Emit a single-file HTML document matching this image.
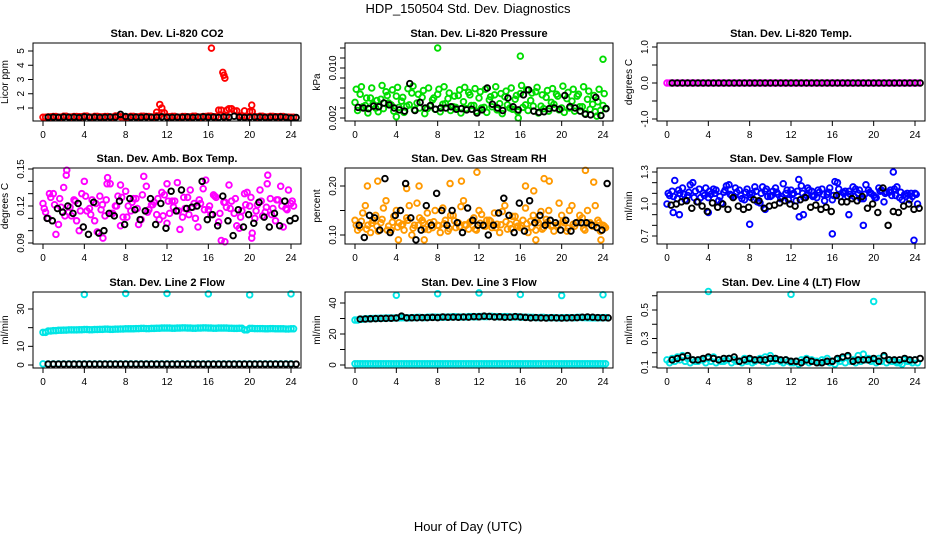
<!DOCTYPE html>
<html><head><meta charset="utf-8"><style>
html,body{margin:0;padding:0;background:#fff;}
svg{display:block;font-family:"Liberation Sans",sans-serif;}
</style></head><body>
<svg id="chart" width="936" height="540" viewBox="0 0 936 540">
<text x="468" y="13" text-anchor="middle" font-size="13">HDP_150504  Std. Dev. Diagnostics</text>
<text x="468" y="531" text-anchor="middle" font-size="13">Hour of Day (UTC)</text>
</svg>
<script>
// ---- data (hour of day sampled every 0.5 h; second arrays offset 0.25 h) ----
const hourTicks = [0,4,8,12,16,20,24];
const co2Red = [0.35,0.38,0.4,0.36,0.42,0.37,0.4,0.39,0.43,0.36,0.41,0.38,0.4,0.37,0.44,0.39,0.36,0.41,0.38,0.42,0.4,0.37,0.45,0.66,0.39,0.41,0.36,0.4,0.38,0.42,0.37,0.4,0.43,0.39,0.85,0.4,0.95,0.8,0.45,0.4,0.75,0.38,0.42,0.37,0.41,0.39,0.4,0.36,0.35];
const co2RedOutX = [11.3,11.5,16.3,17.4,17.5,17.6,20.2,19.5,11.0,17.8];
const co2RedOutY = [1.25,1.0,5.2,3.5,3.3,3.1,1.2,0.8,0.7,0.85];
const co2Black = [0.35,0.36,0.34,0.37,0.35,0.36,0.33,0.38,0.35,0.36,0.34,0.35,0.37,0.36,0.55,0.4,0.35,0.36,0.34,0.37,0.35,0.36,0.38,0.35,0.34,0.36,0.35,0.37,0.34,0.36,0.38,0.35,0.36,0.34,0.37,0.35,0.42,0.36,0.34,0.35,0.37,0.36,0.34,0.35,0.36,0.37,0.35,0.3,0.33];

const presGreen = [0.0045,0.0058,0.004,0.0052,0.0036,0.005,0.0062,0.0041,0.0055,0.0047,0.0039,0.006,0.0044,0.0053,0.0035,0.0049,0.0058,0.0042,0.0051,0.0038,0.0056,0.0046,0.0061,0.004,0.0052,0.0037,0.0049,0.0057,0.0043,0.0054,0.0036,0.005,0.0059,0.0041,0.0048,0.0062,0.0039,0.0053,0.0045,0.0058,0.0036,0.0051,0.0047,0.0055,0.0038,0.005,0.0042,0.0046,0.004];
const presGreen2 = [0.0032,0.0038,0.0028,0.0042,0.003,0.0035,0.0044,0.0031,0.0037,0.0029,0.0041,0.0033,0.0036,0.0027,0.0039,0.0034,0.003,0.0043,0.0032,0.0037,0.0028,0.0035,0.004,0.0031,0.0036,0.0029,0.0038,0.0033,0.0027,0.0041,0.0034,0.003,0.0037,0.0032,0.0039,0.0028,0.0035,0.0031,0.0042,0.0033,0.0029,0.0036,0.0031,0.0038,0.0027,0.0034,0.003,0.0032,0.0035];
const presGreen3 = [0.0066,0.007,0.0052,0.0068,0.0048,0.0072,0.0056,0.0065,0.0069,0.0053,0.0067,0.0071,0.0058,0.0064,0.0068,0.0052,0.0066,0.007,0.006,0.0055,0.0065,0.0069,0.0057,0.0067,0.0062,0.0066,0.0054,0.007,0.0059,0.0063,0.0068,0.0056,0.0072,0.0065,0.006,0.0069,0.0057,0.0064,0.0067,0.0055,0.0071,0.0061,0.0066,0.0058,0.007,0.0063,0.0056,0.0066,0.0059];
const presOutX = [8,16,24,15.8,4,23.4];
const presOutY = [0.0132,0.0119,0.0114,0.002,0.0022,0.0023];
const presBlack = [0.0037,0.0036,0.0035,0.0039,0.0038,0.0044,0.0041,0.0036,0.0033,0.0031,0.0075,0.0032,0.0045,0.0036,0.004,0.0034,0.0036,0.0036,0.0038,0.0034,0.0035,0.0033,0.0034,0.0028,0.0033,0.0068,0.0042,0.0036,0.0032,0.0052,0.0038,0.0033,0.0057,0.0065,0.0031,0.0029,0.003,0.0035,0.0036,0.0034,0.0056,0.0038,0.0036,0.0031,0.0026,0.0025,0.0053,0.0024,0.0035];

const tempMag = [0,0,0,0,0,0,0,0,0,0,0,0,0,0,0,0,0,0,0,0,0,0,0,0,0,0,0,0,0,0,0,0,0,0,0,0,0,0,0,0,0,0,0,0,0,0,0,0,0];
const tempBlack = [0,0,0,0,0,0,0,0,0,0,0,0,0,0,0,0,0,0,0,0,0,0,0,0,0,0,0,0,0,0,0,0,0,0,0,0,0,0,0,0,0,0,0,0,0,0,0,0,0];

const ambMag = [0.122,0.11,0.13,0.105,0.135,0.115,0.125,0.1,0.14,0.118,0.108,0.128,0.112,0.138,0.12,0.104,0.132,0.116,0.126,0.109,0.136,0.121,0.113,0.131,0.106,0.124,0.139,0.111,0.127,0.119,0.103,0.134,0.117,0.129,0.107,0.123,0.137,0.114,0.102,0.13,0.12,0.11,0.133,0.115,0.126,0.108,0.136,0.118,0.122];
const ambMag2 = [0.115,0.127,0.097,0.119,0.145,0.112,0.108,0.13,0.116,0.125,0.099,0.121,0.143,0.114,0.128,0.111,0.12,0.126,0.105,0.144,0.117,0.123,0.109,0.129,0.114,0.124,0.101,0.118,0.133,0.11,0.122,0.141,0.113,0.127,0.092,0.119,0.124,0.104,0.116,0.131,0.098,0.121,0.112,0.145,0.118,0.125,0.103,0.133,0.12];
const ambMag3 = [0.118,0.13,0.121,0.126,0.112,0.119,0.124,0.116,0.128,0.113,0.122,0.117,0.125,0.114,0.12,0.127,0.111,0.123,0.118,0.129,0.115,0.121,0.126,0.112,0.124,0.119,0.116,0.127,0.113,0.122,0.125,0.117,0.12,0.128,0.114,0.123,0.118,0.126,0.111,0.121,0.127,0.116,0.124,0.119,0.113,0.125,0.12,0.117,0.124];
const ambOutX = [2.3,6.2,7.5,12,21.7,5.8,17.6,20.2];
const ambOutY = [0.149,0.138,0.137,0.138,0.138,0.094,0.091,0.094];
const ambBlack = [0.11,0.108,0.118,0.115,0.12,0.114,0.122,0.103,0.097,0.123,0.098,0.1,0.114,0.112,0.124,0.105,0.126,0.117,0.109,0.116,0.126,0.105,0.122,0.102,0.132,0.116,0.133,0.118,0.119,0.12,0.14,0.109,0.113,0.104,0.128,0.108,0.096,0.117,0.103,0.113,0.106,0.123,0.111,0.103,0.114,0.104,0.124,0.108,0.11];

const rhOrange = [0.13,0.115,0.16,0.105,0.14,0.125,0.17,0.11,0.15,0.12,0.135,0.1,0.165,0.13,0.145,0.115,0.12,0.155,0.108,0.14,0.125,0.17,0.112,0.135,0.15,0.118,0.13,0.145,0.105,0.16,0.122,0.138,0.115,0.155,0.128,0.11,0.148,0.132,0.118,0.12,0.14,0.108,0.16,0.125,0.135,0.15,0.118,0.13,0.12];
const rhOrange2 = [0.11,0.145,0.12,0.13,0.108,0.155,0.118,0.138,0.125,0.11,0.16,0.12,0.135,0.112,0.125,0.15,0.105,0.13,0.14,0.115,0.158,0.12,0.128,0.11,0.142,0.13,0.115,0.122,0.148,0.112,0.138,0.118,0.13,0.105,0.14,0.125,0.115,0.15,0.108,0.165,0.125,0.15,0.118,0.14,0.11,0.125,0.16,0.108,0.115];
const rhOrange3 = [0.12,0.128,0.112,0.124,0.118,0.132,0.11,0.126,0.116,0.122,0.13,0.114,0.12,0.125,0.111,0.127,0.119,0.123,0.113,0.129,0.117,0.121,0.126,0.112,0.124,0.118,0.128,0.115,0.121,0.127,0.113,0.125,0.119,0.123,0.116,0.13,0.112,0.126,0.12,0.118,0.128,0.114,0.122,0.127,0.113,0.124,0.119,0.125,0.118];
const rhOutX = [1.2,2.2,5,6.2,9.2,10.3,11.8,16.5,17.3,18.3,18.8,22.3,23.1,23.8,17.5,4.2,6.7];
const rhOutY = [0.2,0.21,0.195,0.2,0.205,0.21,0.228,0.2,0.19,0.215,0.21,0.232,0.208,0.09,0.09,0.09,0.09];
const rhBlack = [0.12,0.095,0.14,0.135,0.11,0.215,0.105,0.14,0.15,0.205,0.135,0.09,0.11,0.16,0.12,0.185,0.15,0.12,0.15,0.125,0.105,0.155,0.13,0.12,0.12,0.1,0.12,0.145,0.175,0.14,0.105,0.165,0.108,0.17,0.125,0.14,0.12,0.13,0.125,0.11,0.13,0.108,0.125,0.125,0.125,0.12,0.115,0.11,0.205];

const flowBlue = [1.0,1.12,1.05,1.15,1.08,1.2,1.02,1.1,1.06,1.14,1.03,1.11,1.18,1.07,1.13,1.04,1.09,1.16,1.01,1.12,1.07,1.15,1.05,1.1,1.13,1.03,1.17,1.08,1.12,1.06,1.14,1.09,1.04,1.2,1.11,1.07,1.16,1.1,1.05,1.13,1.08,1.15,1.02,1.11,1.14,1.06,1.09,1.04,1.1];
const flowBlue2 = [1.08,1.22,1.1,1.04,1.18,1.12,1.06,1.15,1.09,1.13,1.01,1.17,1.08,1.11,1.05,1.14,1.1,1.02,1.16,1.07,1.12,1.09,1.19,1.04,1.1,1.23,1.06,1.13,1.08,1.11,1.03,1.15,1.21,1.07,1.12,1.09,1.14,1.05,1.18,1.1,1.06,1.13,1.11,1.08,1.16,1.04,1.1,1.07,1.0];
const flowBlue3 = [1.1,1.07,1.13,1.09,1.11,1.06,1.14,1.08,1.12,1.1,1.07,1.13,1.09,1.15,1.08,1.11,1.06,1.12,1.1,1.14,1.08,1.11,1.07,1.13,1.09,1.12,1.1,1.15,1.07,1.13,1.09,1.11,1.08,1.14,1.1,1.12,1.07,1.13,1.09,1.11,1.06,1.12,1.1,1.13,1.08,1.11,1.07,1.1,1.09];
const flowOutX = [0.6,1.2,4,8,12.8,16,17.6,19,21.9,23.9,13.2,9.5];
const flowOutY = [0.92,0.9,0.92,0.81,0.88,0.72,0.9,0.8,1.3,0.66,0.9,0.95];
const flowBlack = [0.99,1.0,1.02,1.03,0.96,1.02,0.98,0.93,1.01,0.97,1.0,0.95,1.06,0.98,0.95,0.97,1.04,1.03,0.96,0.98,0.99,1.01,1.03,1.0,0.98,1.04,1.06,0.97,0.99,0.95,0.97,0.93,1.08,1.02,1.02,1.05,1.03,1.07,0.96,1.0,0.92,1.15,0.8,0.93,0.92,0.98,1.0,0.95,0.96];

const l2Cyan = [17.5,18.2,18.4,18.6,18.7,18.8,18.8,18.9,19,18.9,19,19.1,19.2,19.1,19.2,19.3,19.4,19.4,19.5,19.6,19.5,19.6,19.7,19.8,19.8,19.7,19.8,19.9,19.8,19.7,19.8,19.9,19.8,19.7,19.8,19.8,19.7,19.6,19.7,18.8,19.6,19.5,19.5,19.4,19.5,19.4,19.4,19.3,19.4];
const l2CyanLow = [0.6,0.6,0.6,0.6,0.6,0.6,0.6,0.6,0.6,0.6,0.6,0.6,0.6,0.6,0.6,0.6,0.6,0.6,0.6,0.6,0.6,0.6,0.6,0.6,0.6,0.6,0.6,0.6,0.6,0.6,0.6,0.6,0.6,0.6,0.6,0.6,0.6,0.6,0.6,0.6,0.6,0.6,0.6,0.6,0.6,0.6,0.6,0.6,0.6];
const l2OutX = [4,8,12,16,20,24];
const l2OutY = [37.8,38.3,38.3,38.1,37.6,38.1];
const l2Black = [0.5,0.5,0.5,0.5,0.5,0.5,0.5,0.5,0.5,0.5,0.5,0.5,0.5,0.5,0.5,0.5,0.5,0.5,0.5,0.5,0.5,0.5,0.5,0.5,0.5,0.5,0.5,0.5,0.5,0.5,0.5,0.5,0.5,0.5,0.5,0.5,0.5,0.5,0.5,0.5,0.5,0.5,0.5,0.5,0.5,0.5,0.5,0.5,0.5];

const l3Cyan = [29,29.5,29.8,30,30.1,30.2,30.3,30.3,30.4,30.5,30.4,30.6,30.7,30.6,30.8,30.9,30.8,30.9,31,31.1,31,31,31.2,31.1,31.3,31.2,31.4,31.2,31.1,31.2,31,31.1,30.9,30.8,30.7,30.6,30.7,30.5,30.6,30.4,30.5,30.6,30.5,30.7,30.6,30.5,30.4,30.5,30.6];
const l3CyanLow = [0.8,0.8,0.8,0.8,0.8,0.8,0.8,0.8,0.8,0.8,0.8,0.8,0.8,0.8,0.8,0.8,0.8,0.8,0.8,0.8,0.8,0.8,0.8,0.8,0.8,0.8,0.8,0.8,0.8,0.8,0.8,0.8,0.8,0.8,0.8,0.8,0.8,0.8,0.8,0.8,0.8,0.8,0.8,0.8,0.8,0.8,0.8,0.8,0.8];
const l3OutX = [4,8,12,16,20,24];
const l3OutY = [45,46,46.5,45.5,44.8,45.3];
const l3Black = [29.6,29.7,29.8,29.9,30,30.1,30.2,30.3,31.5,30.4,30.5,30.5,30.6,30.6,30.7,30.6,31,30.8,30.9,30.8,31,30.9,31.2,31.1,31.5,31.3,31,31.1,30.8,30.9,31.2,31,30.7,30.4,30.6,30.4,30.3,30.5,30.4,30.3,30.4,30.5,30.6,30.8,31,30.8,30.6,30.5,30.4];

const l4Cyan = [0.15,0.16,0.17,0.18,0.16,0.15,0.14,0.15,0.16,0.17,0.15,0.14,0.16,0.15,0.14,0.16,0.15,0.14,0.16,0.17,0.18,0.15,0.14,0.15,0.13,0.14,0.15,0.16,0.15,0.14,0.15,0.16,0.14,0.15,0.16,0.17,0.15,0.18,0.19,0.16,0.15,0.16,0.17,0.15,0.14,0.13,0.15,0.14,0.15];
const l4Cyan2 = [0.13,0.14,0.15,0.14,0.13,0.14,0.15,0.13,0.14,0.13,0.14,0.15,0.13,0.14,0.13,0.14,0.13,0.15,0.14,0.13,0.14,0.15,0.13,0.14,0.13,0.12,0.14,0.13,0.14,0.13,0.14,0.13,0.12,0.14,0.13,0.14,0.13,0.14,0.15,0.14,0.13,0.14,0.13,0.14,0.13,0.12,0.14,0.13,0.13];
const l4OutX = [4,12,20];
const l4OutY = [0.63,0.61,0.56];
const l4Black = [0.15,0.16,0.17,0.18,0.15,0.15,0.16,0.17,0.16,0.15,0.16,0.16,0.17,0.14,0.15,0.16,0.15,0.15,0.15,0.16,0.16,0.15,0.15,0.14,0.14,0.13,0.15,0.14,0.13,0.13,0.14,0.14,0.16,0.17,0.18,0.14,0.15,0.15,0.15,0.16,0.14,0.18,0.15,0.15,0.15,0.16,0.15,0.15,0.16];

// ---- layout ----
const NS = "http://www.w3.org/2000/svg";
const svg = document.getElementById("chart");
const colX = [33,345,657], boxW = 268;
const rowY = [43,168,292], boxH = [78,76,76];

const panels = [
 {title:"Stan. Dev. Li-820 CO2", unit:"Licor ppm", c:0,r:0, y0:1, y1:5, yp0:108, yp1:51, ticks:[1,2,3,4,5], labels:["1","2","3","4","5"],
  series:[{v:co2Red,col:"#ff0000",off:0},{v:co2Red,col:"#ff0000",off:0.25},{ox:co2RedOutX,oy:co2RedOutY,col:"#ff0000"},{v:co2Black,col:"#000",off:0.5}]},
 {title:"Stan. Dev. Li-820 Pressure", unit:"kPa", c:1,r:0, y0:0.002, y1:0.010, yp0:118, yp1:68, ticks:[0.0004,0.002,0.0036,0.0052,0.0068,0.0084,0.010,0.0116,0.0132,0.0148], labels:["","0.002","","","","","0.010","","",""],
  series:[{v:presGreen,col:"#00dd00",off:0},{v:presGreen2,col:"#00dd00",off:0.25},{v:presGreen3,col:"#00dd00",off:0.12},{ox:presOutX,oy:presOutY,col:"#00dd00"},{v:presBlack,col:"#000",off:0.3}]},
 {title:"Stan. Dev. Li-820 Temp.", unit:"degrees C", c:2,r:0, y0:0, y1:1, yp0:83, yp1:47, ticks:[-1,-0.5,0,0.5,1], labels:["-1.0","","0.0","","1.0"],
  series:[{v:tempMag,col:"#ff00ff",off:0},{v:tempMag,col:"#ff00ff",off:0.25},{v:tempBlack,col:"#000",off:0.5}]},
 {title:"Stan. Dev. Amb. Box Temp.", unit:"degrees C", c:0,r:1, y0:0.09, y1:0.15, yp0:243, yp1:169, ticks:[0.09,0.10,0.11,0.12,0.13,0.14,0.15], labels:["0.09","","","0.12","","","0.15"],
  series:[{v:ambMag,col:"#ff00ff",off:0},{v:ambMag2,col:"#ff00ff",off:0.25},{v:ambMag3,col:"#ff00ff",off:0.12},{ox:ambOutX,oy:ambOutY,col:"#ff00ff"},{v:ambBlack,col:"#000",off:0.4}]},
 {title:"Stan. Dev. Gas Stream RH", unit:"percent", c:1,r:1, y0:0.10, y1:0.20, yp0:235, yp1:186, ticks:[0.10,0.15,0.20], labels:["0.10","","0.20"],
  series:[{v:rhOrange,col:"#ff9900",off:0},{v:rhOrange2,col:"#ff9900",off:0.25},{v:rhOrange3,col:"#ff9900",off:0.12},{ox:rhOutX,oy:rhOutY,col:"#ff9900"},{v:rhBlack,col:"#000",off:0.4}]},
 {title:"Stan. Dev. Sample Flow", unit:"ml/min", c:2,r:1, y0:0.7, y1:1.3, yp0:236, yp1:172, ticks:[0.7,0.8,0.9,1.0,1.1,1.2,1.3], labels:["0.7","","","1.0","","","1.3"],
  series:[{v:flowBlue,col:"#0000ff",off:0},{v:flowBlue2,col:"#0000ff",off:0.25},{v:flowBlue3,col:"#0000ff",off:0.12},{ox:flowOutX,oy:flowOutY,col:"#0000ff"},{v:flowBlack,col:"#000",off:0.4}]},
 {title:"Stan. Dev. Line 2 Flow", unit:"ml/min", c:0,r:2, y0:0, y1:30, yp0:365, yp1:309, ticks:[0,10,20,30,40], labels:["0","10","","30",""],
  series:[{v:l2Cyan,col:"#00e5e5",off:0},{v:l2Cyan,col:"#00e5e5",off:0.25},{v:l2CyanLow,col:"#00e5e5",off:0},{ox:l2OutX,oy:l2OutY,col:"#00e5e5"},{v:l2Black,col:"#000",off:0.5}]},
 {title:"Stan. Dev. Line 3 Flow", unit:"ml/min", c:1,r:2, y0:0, y1:40, yp0:365, yp1:303, ticks:[0,10,20,30,40], labels:["0","","20","","40"],
  series:[{v:l3Cyan,col:"#00e5e5",off:0},{v:l3Cyan,col:"#00e5e5",off:0.25},{v:l3CyanLow,col:"#00e5e5",off:0},{v:l3CyanLow,col:"#00e5e5",off:0.25},{ox:l3OutX,oy:l3OutY,col:"#00e5e5"},{v:l3Black,col:"#000",off:0.5}]},
 {title:"Stan. Dev. Line 4 (LT) Flow", unit:"ml/min", c:2,r:2, y0:0.1, y1:0.5, yp0:367, yp1:310, ticks:[0.1,0.2,0.3,0.4,0.5,0.6], labels:["0.1","","0.3","","0.5",""],
  series:[{v:l4Cyan,col:"#00e5e5",off:0},{v:l4Cyan2,col:"#00e5e5",off:0.25},{ox:l4OutX,oy:l4OutY,col:"#00e5e5"},{v:l4Black,col:"#000",off:0.5}]}
];

function el(tag, attrs, parent){
  const e = document.createElementNS(NS, tag);
  for (const k in attrs) e.setAttribute(k, attrs[k]);
  parent.appendChild(e);
  return e;
}

panels.forEach((p, pi) => {
  const left = colX[p.c], top = rowY[p.r], h = boxH[p.r], bottom = top + h;
  const g = el("g", {}, svg);
  
  
  const xs = t => left + 10 + t * (248/24);
  const ys = v => p.yp0 + (v - p.y0) * (p.yp1 - p.yp0) / (p.y1 - p.y0);

  const t = el("text", {x:left+boxW/2, y:top-6, "text-anchor":"middle", "font-size":"11", "font-weight":"bold"}, g);
  t.textContent = p.title;
  
  

  const yl = el("text", {x:0, y:0, "text-anchor":"middle", "font-size":"10", transform:`translate(${left-25},${top+h/2}) rotate(-90)`}, g);
  yl.textContent = p.unit;
  
  

  const pts = el("g", {}, g);
  
  

  p.series.forEach(s => {
    if (s.v) {
      s.v.forEach((val, i) => {
        const c = el("circle", {cx:xs(i*0.5 + s.off), cy:ys(val), r:2.8, fill:"none", stroke:s.col, "stroke-width":1.9}, pts);
        
        
      });
    } else {
      s.ox.forEach((x, i) => {
        const c = el("circle", {cx:xs(x), cy:ys(s.oy[i]), r:2.8, fill:"none", stroke:s.col, "stroke-width":1.9}, pts);
        
        
      });
    }
  });

  const box = el("rect", {x:left, y:top, width:boxW, height:h, fill:"none", stroke:"#000", "stroke-width":1}, g);
  
  

  el("line", {x1:xs(0), x2:xs(24), y1:bottom, y2:bottom, stroke:"#000"}, g);
  hourTicks.forEach(hr => {
    el("line", {x1:xs(hr), x2:xs(hr), y1:bottom, y2:bottom+5, stroke:"#000"}, g);
    const tl = el("text", {x:xs(hr), y:bottom+17, "text-anchor":"middle", "font-size":"10"}, g);
    tl.textContent = hr;
    
    
  });
  const yt = p.ticks.map(ys).filter(y => y >= top - 1 && y <= bottom + 1);
  el("line", {x1:left, x2:left, y1:Math.min(...yt), y2:Math.max(...yt), stroke:"#000"}, g);
  p.ticks.forEach((v, i) => {
    const y = ys(v);
    if (y < top - 1 || y > bottom + 1) return;
    el("line", {x1:left-5, x2:left, y1:y, y2:y, stroke:"#000"}, g);
    if (p.labels[i]) {
      const lab = el("text", {x:0, y:0, "text-anchor":"middle", "font-size":"10", transform:`translate(${left-9},${y}) rotate(-90)`}, g);
      lab.textContent = p.labels[i];
      
      
    }
  });
});
</script>
</body></html>
